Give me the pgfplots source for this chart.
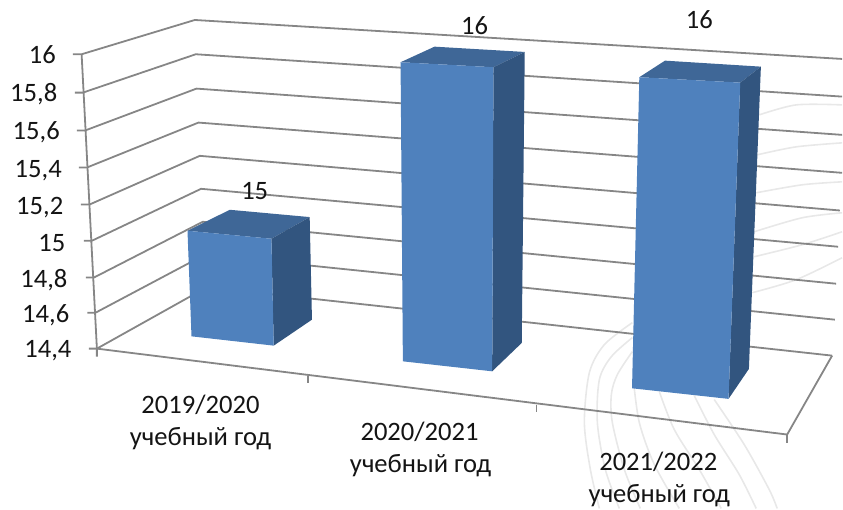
\documentclass[border=0pt]{standalone}
\usepackage{pgfplots}
\pgfplotsset{compat=1.18}
\usepackage{fontspec}
\setmainfont{Carlito}
\definecolor{gridc}{HTML}{868686}
\definecolor{wmark}{HTML}{E8E8E8}
\definecolor{barfront}{HTML}{4F81BD}
\definecolor{bartop}{HTML}{3F6797}
\definecolor{barside}{HTML}{32557F}
\tikzset{
  grid line/.style={draw=gridc, line width=1.8pt},
  wm/.style={draw=wmark, line width=1.6pt, smooth},
  lab/.style={font=\fontsize{26.6}{30}\selectfont, text=black!92, inner sep=0pt},
}
\begin{document}
\begin{tikzpicture}
% the chart is a perspective 3D one, so everything sits on a pixel-sized axis
\begin{axis}[
  scale only axis,
  width=843pt, height=509pt,
  xmin=0, xmax=843, ymin=0, ymax=509,
  y dir=reverse,
  axis lines=none,
  clip=false,
  no markers,
  every axis plot/.append style={line join=round},
]
% page corners
\addplot[draw=none] coordinates {(0,0) (843,509)};

% watermark in the background
\addplot[wm] coordinates {(633,323) (605,345) (590,373) (585,423) (591,470) (600,509)};
\addplot[wm] coordinates {(633,338) (612,357) (600,380) (598,423) (606,470) (620,509)};
\addplot[wm] coordinates {(633,352) (618,375) (612,395) (613,423) (625,470) (641,509)};
\addplot[wm] coordinates {(634,380) (640,423) (655,465) (680,509)};
\addplot[wm] coordinates {(660,392) (675,430) (700,470) (722,509)};
\addplot[wm] coordinates {(695,396) (715,435) (740,475) (757,509)};
\addplot[wm] coordinates {(715,400) (745,445) (770,490) (778,509)};
\addplot[wm] coordinates {(760,115) (797,105) (843,105)};
\addplot[wm] coordinates {(758,155) (797,147) (843,143)};
\addplot[wm] coordinates {(757,193) (803,185) (843,182)};
\addplot[wm] coordinates {(755,232) (803,218) (843,213)};
\addplot[wm] coordinates {(755,257) (803,245) (843,232)};
\addplot[wm] coordinates {(753,293) (797,280) (843,258)};

% walls: gridlines at 16, 15.8, ... 14.4
\addplot[grid line] coordinates {(73,54.3) (81.7,54.3) (195,20) (843,59)};
\addplot[grid line] coordinates {(75,92.7) (83,92.7) (196,54.3) (843,96.7)};
\addplot[grid line] coordinates {(77,130.7) (85,130.7) (196.7,88.7) (843,135)};
\addplot[grid line] coordinates {(79,167.7) (87,167.7) (198.7,122.7) (843,173)};
\addplot[grid line] coordinates {(81,204.7) (89.7,204.7) (200,156) (840.7,210.7)};
\addplot[grid line] coordinates {(84,241) (92,241) (201.3,189) (839,247)};
\addplot[grid line] coordinates {(86,277.7) (94.3,277.7) (203,222) (837,284)};
\addplot[grid line] coordinates {(87.5,313) (95.7,313) (205,255) (835.7,320)};
\addplot[grid line] coordinates {(89,349) (97,349) (207,287.5) (833,356)};
% value axis and floor
\addplot[grid line] coordinates {(81.7,54.3) (97,349) (97,357)};
\addplot[grid line] coordinates {(97,349) (788,435) (833,356)};
\addplot[grid line] coordinates {(308,376.5) (308,383)};
\addplot[grid line] coordinates {(537,405) (537,412)};
\addplot[grid line] coordinates {(788,435) (788,443)};

% bar 1 (15)
\addplot[fill=bartop, draw=none] coordinates {(187.7,231) (230,210) (310,217.3) (271.7,239)} -- cycle;
\addplot[fill=barside, draw=none] coordinates {(271.7,239) (310,217.3) (312.3,320) (274,346)} -- cycle;
\addplot[fill=barfront, draw=none] coordinates {(187.7,231) (271.7,239) (274,346) (191.7,336.7)} -- cycle;
% bar 2 (16)
\addplot[fill=bartop, draw=none] coordinates {(401,62.3) (435,46.7) (525.3,52) (494,67.3)} -- cycle;
\addplot[fill=barside, draw=none] coordinates {(494,67.3) (525.3,52) (522.3,343.3) (492.7,371.7)} -- cycle;
\addplot[fill=barfront, draw=none] coordinates {(401,62.3) (494,67.3) (492.7,371.7) (403.3,361.7)} -- cycle;
% bar 3 (16)
\addplot[fill=bartop, draw=none] coordinates {(640,77.3) (665.7,60.7) (761.7,66.7) (741,82.7)} -- cycle;
\addplot[fill=barside, draw=none] coordinates {(741,82.7) (761.7,66.7) (749.7,369.3) (729.3,399.3)} -- cycle;
\addplot[fill=barfront, draw=none] coordinates {(640,77.3) (741,82.7) (729.3,399.3) (632.7,388.7)} -- cycle;

% tick labels
\node[lab, anchor=base east] at (axis cs:56,63.3) {16};
\node[lab, anchor=base east] at (axis cs:57.5,102) {15,8};
\node[lab, anchor=base east] at (axis cs:60,140) {15,6};
\node[lab, anchor=base east] at (axis cs:62,177.3) {15,4};
\node[lab, anchor=base east] at (axis cs:63.5,214.3) {15,2};
\node[lab, anchor=base east] at (axis cs:65.7,251.3) {15};
\node[lab, anchor=base east] at (axis cs:67.7,287.6) {14,8};
\node[lab, anchor=base east] at (axis cs:69.5,323.3) {14,6};
\node[lab, anchor=base east] at (axis cs:71.7,358.3) {14,4};

% value labels
\node[lab, anchor=base] at (axis cs:255,199.3) {15};
\node[lab, anchor=base] at (axis cs:475,34.3) {16};
\node[lab, anchor=base] at (axis cs:700,28.3) {16};

% category labels
\node[lab, anchor=base] at (axis cs:200.7,413.5) {2019/2020};
\node[lab, anchor=base] at (axis cs:200.7,446) {учебный год};
\node[lab, anchor=base] at (axis cs:420,440.5) {2020/2021};
\node[lab, anchor=base] at (axis cs:421,473) {учебный год};
\node[lab, anchor=base] at (axis cs:659,470.5) {2021/2022};
\node[lab, anchor=base] at (axis cs:660,503) {учебный год};
\end{axis}
\end{tikzpicture}
\end{document}
